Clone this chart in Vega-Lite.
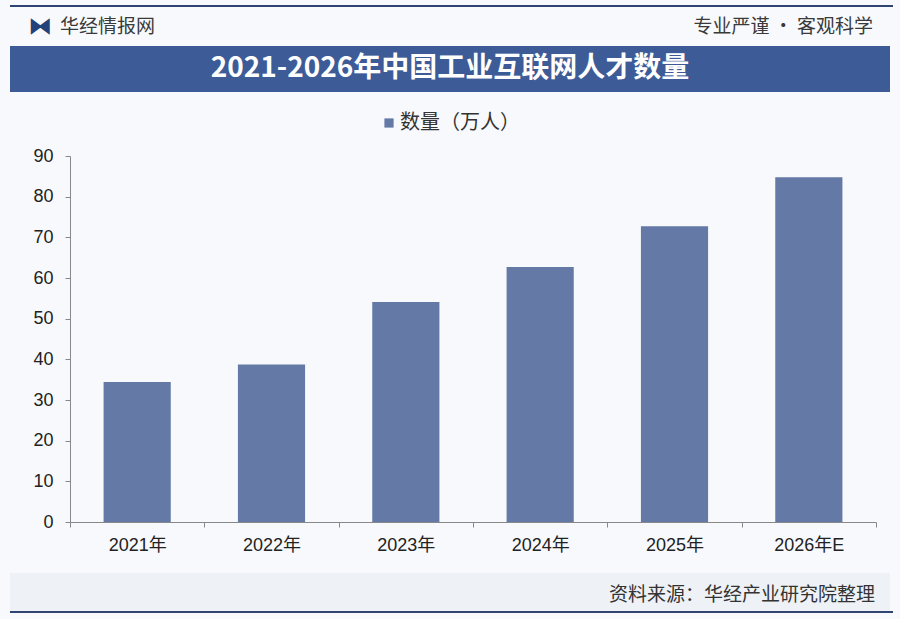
{
  "$schema": "https://vega.github.io/schema/vega-lite/v6.json",
  "background": "#f8f9fc",
  "padding": {"left": 10, "top": 5, "right": 7, "bottom": 6},
  "spacing": 0,
  "columns": 1,
  "align": "none",
  "bounds": "full",
  "resolve": {"scale": {"color": "independent", "x": "independent", "y": "independent"}, "legend": {"color": "independent"}},
  "config": {"view": {"stroke": null}, "font": "Noto Sans CJK SC"},
  "concat": [
    {
      "width": 883, "height": 2,
      "view": {"fill": "#2f4470"},
      "data": {"values": []},
      "mark": "rect",
      "encoding": {}
    },
    {
      "width": 880, "height": 39,
      "layer": [
        {
          "data": {"values": [{"side": "L", "t": "⧓"}]},
          "mark": {"type": "text", "dx": 30, "align": "center", "baseline": "middle", "fontSize": 24, "color": "#23417a", "font": "DejaVu Sans"},
          "encoding": {
            "x": {"field": "side", "type": "nominal", "scale": {"type": "point", "padding": 0, "domain": ["L", "R"]}, "axis": null},
            "text": {"field": "t"}
          }
        },
        {
          "data": {"values": [{"side": "L", "t": "华经情报网"}]},
          "mark": {"type": "text", "dx": 50, "align": "left", "baseline": "middle", "fontSize": 19, "color": "#3a3a3a"},
          "encoding": {
            "x": {"field": "side", "type": "nominal", "scale": {"type": "point", "padding": 0, "domain": ["L", "R"]}, "axis": null},
            "text": {"field": "t"}
          }
        },
        {
          "data": {"values": [{"side": "R", "t": "专业严谨 • 客观科学"}]},
          "mark": {"type": "text", "dx": -17, "align": "right", "baseline": "middle", "fontSize": 19, "color": "#3a3a3a"},
          "encoding": {
            "x": {"field": "side", "type": "nominal", "scale": {"type": "point", "padding": 0, "domain": ["L", "R"]}, "axis": null},
            "text": {"field": "t"}
          }
        }
      ]
    },
    {
      "width": 880, "height": 46,
      "view": {"fill": "#3d5b97"},
      "data": {"values": [{"t": "2021-2026年中国工业互联网人才数量"}]},
      "mark": {"type": "text", "color": "#ffffff", "fontSize": 28, "fontWeight": "bold", "baseline": "middle", "align": "center"},
      "encoding": {"text": {"field": "t"}}
    },
    {
      "spacing": 0,
      "bounds": "full",
      "resolve": {"scale": {"color": "independent", "x": "independent", "y": "independent"}, "legend": {"color": "independent"}},
      "hconcat": [
        {
          "width": 1, "height": 1,
          "data": {"values": []},
          "mark": "rect",
          "encoding": {}
        },
        {
          "width": 806, "height": 366,
          "data": {"values": [
            {"year": "2021年", "value": 34.4, "series": "数量（万人）"},
            {"year": "2022年", "value": 38.7, "series": "数量（万人）"},
            {"year": "2023年", "value": 54.1, "series": "数量（万人）"},
            {"year": "2024年", "value": 62.7, "series": "数量（万人）"},
            {"year": "2025年", "value": 72.7, "series": "数量（万人）"},
            {"year": "2026年E", "value": 84.8, "series": "数量（万人）"}
          ]},
          "mark": {"type": "bar", "width": {"band": 0.5}},
          "encoding": {
            "x": {
              "field": "year", "type": "nominal", "sort": null,
              "scale": {"paddingInner": 0, "paddingOuter": 0},
              "axis": {"title": null, "labelAngle": 0, "tickBand": "extent", "tickSize": 5, "labelPadding": 9, "labelFontSize": 18, "labelColor": "#222222", "labelFont": "Liberation Sans, Noto Sans CJK SC", "domainColor": "#888888", "tickColor": "#888888", "minExtent": 51}
            },
            "y": {
              "field": "value", "type": "quantitative",
              "scale": {"domain": [0, 90], "nice": false},
              "axis": {"title": null, "values": [0, 10, 20, 30, 40, 50, 60, 70, 80, 90], "grid": false, "tickSize": 5, "labelPadding": 12, "labelFontSize": 18, "labelColor": "#222222", "labelFont": "Liberation Sans", "domainColor": "#888888", "tickColor": "#888888", "minExtent": 59}
            },
            "color": {
              "field": "series", "type": "nominal",
              "scale": {"range": ["#6479a6"]},
              "legend": {"title": null, "orient": "none", "legendX": 288, "legendY": -64, "padding": 21, "symbolType": "square", "symbolSize": 85, "symbolStrokeWidth": 0, "labelOffset": 1, "labelFontSize": 20, "labelColor": "#333333", "labelFont": "Noto Sans CJK SC"}
            }
          }
        }
      ]
    },
    {
      "width": 880, "height": 38,
      "view": {"fill": "#eef1f6"},
      "data": {"values": [{"src": "资料来源：华经产业研究院整理"}]},
      "mark": {"type": "text", "align": "right", "dx": -15, "dy": 3, "baseline": "middle", "fontSize": 19, "color": "#333333"},
      "encoding": {
        "x": {"field": "src", "type": "nominal", "scale": {"type": "point", "padding": 0, "align": 1}, "axis": null},
        "text": {"field": "src"}
      }
    },
    {
      "width": 883, "height": 2,
      "view": {"fill": "#2f4470"},
      "data": {"values": []},
      "mark": "rect",
      "encoding": {}
    }
  ]
}
